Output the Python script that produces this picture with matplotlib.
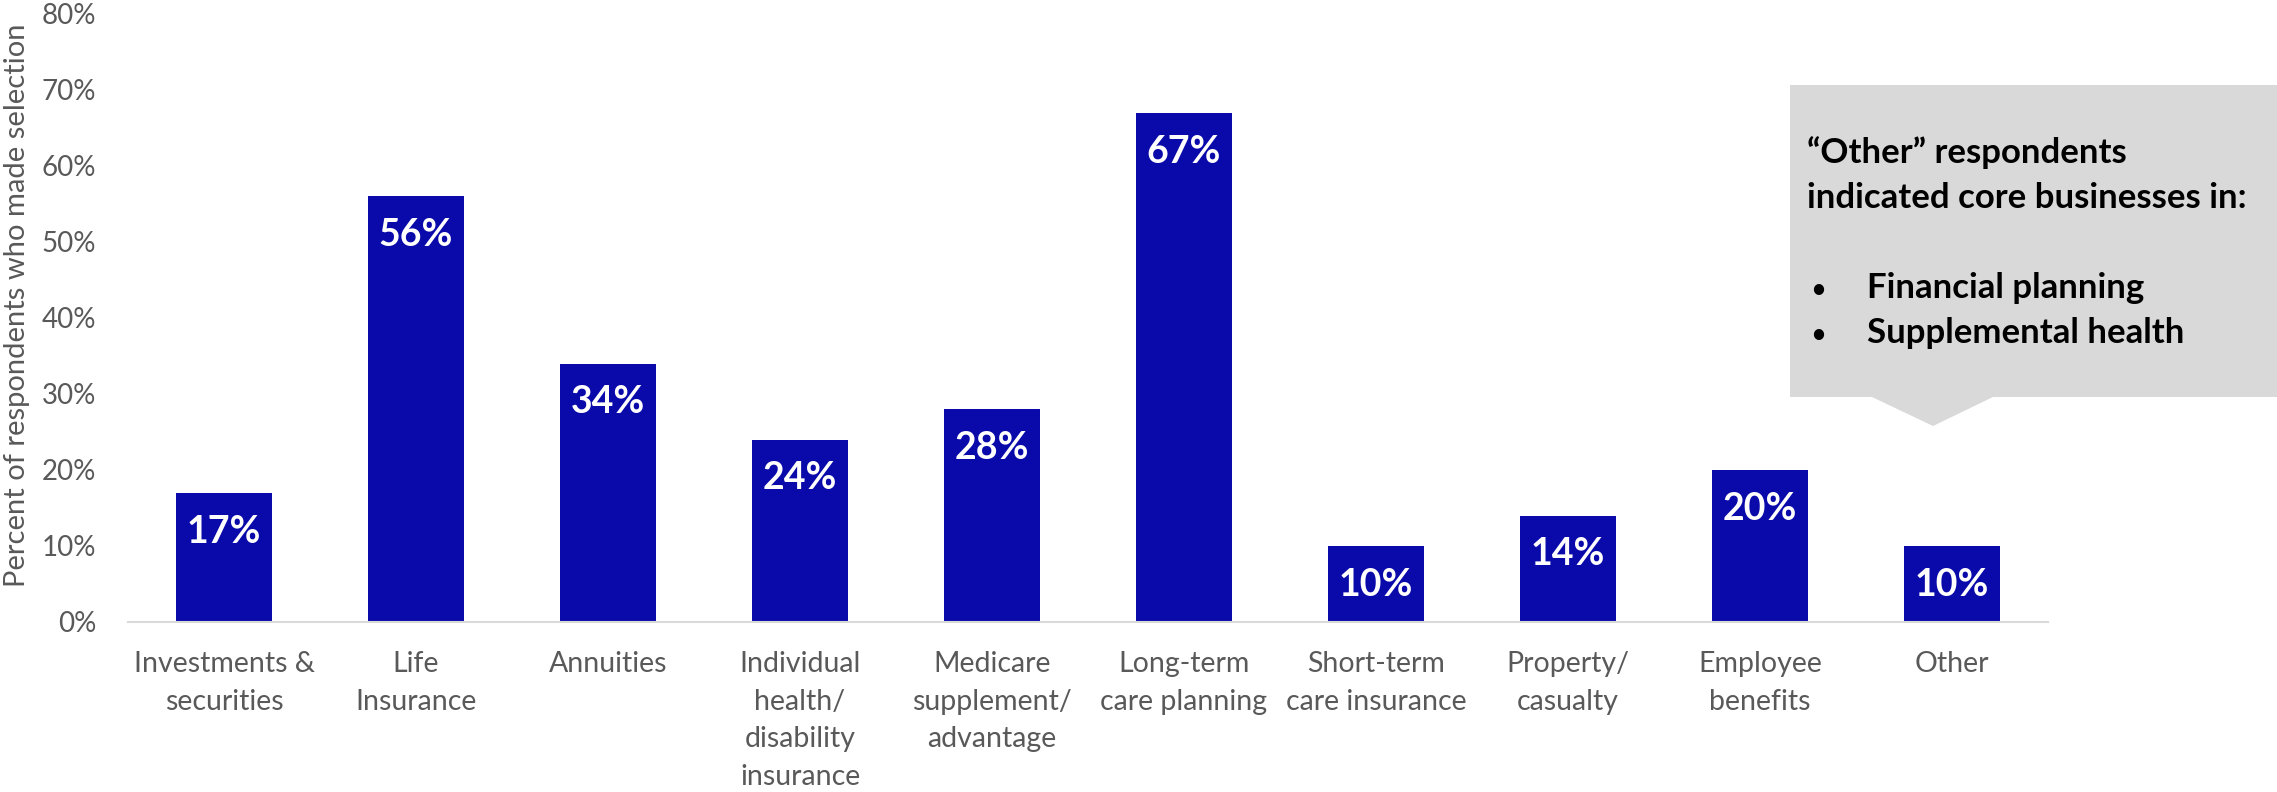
import matplotlib
matplotlib.use('Agg')
import matplotlib.pyplot as plt
from matplotlib.patches import Polygon

plt.rcParams['font.family'] = ['Lato', 'DejaVu Sans']

categories = ['Investments &\nsecurities', 'Life\nInsurance', 'Annuities',
              'Individual\nhealth/\ndisability\ninsurance',
              'Medicare\nsupplement/\nadvantage', 'Long-term\ncare planning',
              'Short-term\ncare insurance', 'Property/\ncasualty',
              'Employee\nbenefits', 'Other']
values = [17, 56, 34, 24, 28, 67, 10, 14, 20, 10]
yticks = [0, 10, 20, 30, 40, 50, 60, 70, 80]
note_title = ['\u201cOther\u201d respondents', 'indicated core businesses in:']
note_items = ['Financial planning', 'Supplemental health']

W, H = 2277, 792
bar_color = '#0A0AAA'
gray = '#595959'

fig = plt.figure(figsize=(W / 100, H / 100), dpi=100)
ax = fig.add_axes([128 / W, 1 - 622 / H, 1920 / W, 608 / H])

x = list(range(len(values)))
ax.bar(x, values, width=0.5, color=bar_color)
ax.set_xlim(-0.5, len(values) - 0.5)
ax.set_ylim(0, 80)

ax.set_yticks(yticks)
ax.set_yticklabels(['%d%%' % v for v in yticks])
ax.set_xticks(x)
ax.set_xticklabels(categories, linespacing=1.55)
ax.tick_params(axis='y', length=0, pad=23, labelsize=20, labelcolor=gray)
ax.tick_params(axis='x', length=0, pad=21, labelsize=20.5, labelcolor=gray)

for s in ['top', 'right', 'left']:
    ax.spines[s].set_visible(False)
ax.spines['bottom'].set_color('#D9D9D9')
ax.spines['bottom'].set_linewidth(1.5)

ax.set_ylabel('Percent of respondents who made selection', fontsize=21,
              color=gray, va='center')
ax.yaxis.set_label_coords(-0.0578, 0.521)

# value labels inside the top of each bar
for i, v in enumerate(values):
    ax.annotate('%d%%' % v, xy=(i, v), xytext=(0, -28), textcoords='offset points',
                ha='center', va='center', color='white', fontweight='bold',
                fontsize=27)

# grey callout box with a pointer down toward the "Other" bar
pts = [(1790, 85), (2277, 85), (2277, 397), (1993, 397), (1933, 426),
       (1872, 397), (1790, 397)]
box = Polygon([(px / W, 1 - py / H) for px, py in pts], closed=True,
              transform=fig.transFigure, facecolor='#D9D9D9', edgecolor='none')
fig.add_artist(box)

for k, line in enumerate(note_title):
    fig.text(1807 / W, 1 - (163 + 45 * k) / H, line, fontsize=25,
             fontweight='bold', color='black', va='baseline')
for k, line in enumerate(note_items):
    yb = 1 - (298 + 45 * k) / H
    fig.text(1810 / W, yb, '\u2022', fontsize=20, color='black', va='baseline')
    fig.text(1867 / W, yb, line, fontsize=25, fontweight='bold', va='baseline')

fig.savefig('out.png', dpi=100)
